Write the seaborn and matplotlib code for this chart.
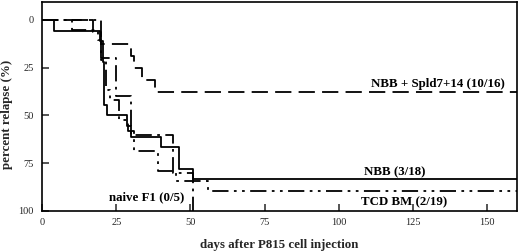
import numpy as np
import matplotlib
matplotlib.use("Agg")
import matplotlib.pyplot as plt
import seaborn as sns

# step curves: (day, percent relapse)
nbb_days = [0, 4, 19.5, 20.5, 21, 22, 28.5, 30, 40, 46, 51, 160]
nbb_pct = [0, 5.6, 11.1, 22.2, 44.4, 50.0, 55.6, 61.1, 66.7, 77.8, 83.3, 83.3]

tcd_days = [0, 10, 19, 20, 21.5, 23, 26, 29, 31, 39, 45, 56, 160]
tcd_pct = [0, 5.3, 10.5, 21.1, 36.8, 42.1, 52.6, 57.9, 68.4, 78.9, 84.2, 89.5, 89.5]

spld_days = [0, 17, 20, 30, 31, 33.5, 38, 160]
spld_pct = [0, 6.25, 12.5, 18.75, 25.0, 31.25, 37.5, 37.5]

naive_days = [0, 20, 25, 30, 44, 51]
naive_pct = [0, 20, 40, 60, 80, 100]

xticks = [0, 25, 50, 75, 100, 125, 150]
yticks = [0, 25, 50, 75, 100]

labels = {
    "spld": "NBB + Spld7+14 (10/16)",
    "nbb": "NBB (3/18)",
    "tcd": "TCD BM (2/19)",
    "naive": "naive F1 (0/5)",
}

sns.set_style("ticks")
plt.rcParams["font.family"] = ["Liberation Serif", "DejaVu Serif"]

fig = plt.figure(figsize=(5.2, 2.52), dpi=100)
ax = fig.add_axes([0.081, 0.163, 0.913, 0.829])

lw = 1.3
sns.lineplot(x=nbb_days, y=nbb_pct, ax=ax, color="black", lw=lw,
             drawstyle="steps-post", linestyle="-")
sns.lineplot(x=tcd_days, y=tcd_pct, ax=ax, color="black", lw=lw,
             drawstyle="steps-post", linestyle=(0, (9, 3, 1.5, 3, 1.5, 3)))
sns.lineplot(x=spld_days, y=spld_pct, ax=ax, color="black", lw=lw,
             drawstyle="steps-post", linestyle=(0, (9, 4)))
sns.lineplot(x=naive_days, y=naive_pct, ax=ax, color="black", lw=lw,
             drawstyle="steps-post", linestyle=(0, (9, 3, 1.5, 3)))

ax.set_xlim(0, 160)
ax.set_ylim(100, -9.4)
ax.set_xticks(xticks)
ax.set_yticks(yticks)
ax.tick_params(direction="in", length=5, width=1.1, labelsize=7.5)
ax.tick_params(axis="y", pad=6)
ax.tick_params(axis="x", pad=5)
for s in ax.spines.values():
    s.set_linewidth(1.2)
    s.set_color("black")

ax.set_xlabel("days after P815 cell injection", fontsize=9.3,
              fontweight="bold", labelpad=9)
ax.set_ylabel("percent relapse (%)", fontsize=9.3, fontweight="bold",
              labelpad=4)
ax.yaxis.set_label_coords(-0.062, 0.46)

tk = dict(fontsize=9.3, fontweight="bold", color="black")
ax.text(156, 33.5, labels["spld"], ha="right", va="center", **tk)
ax.text(119, 79.6, labels["nbb"], ha="center", va="center", **tk)
ax.text(122, 95.3, labels["tcd"], ha="center", va="center", **tk)
ax.text(35.4, 92.7, labels["naive"], ha="center", va="center", **tk)

fig.savefig("out.png", dpi=100)
